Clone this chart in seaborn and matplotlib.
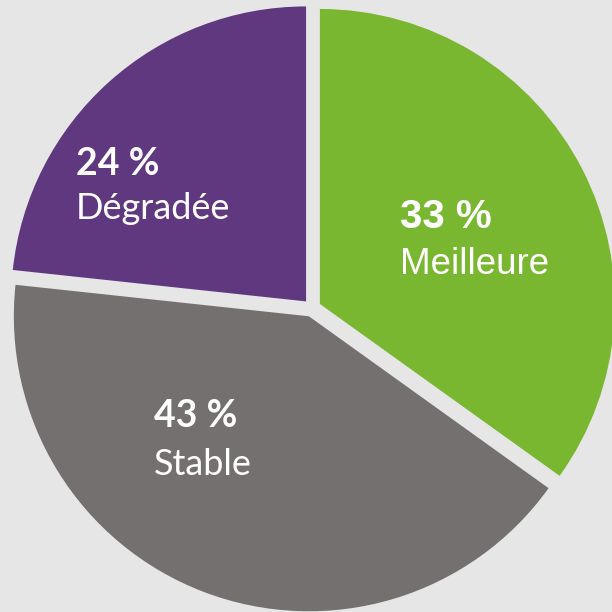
import matplotlib
matplotlib.use("Agg")
import matplotlib.pyplot as plt
import seaborn as sns

# clockwise from the top; wedge sizes as drawn, printed values as labelled
labels = ["Meilleure", "Stable", "Dégradée"]
shares = [34.9, 41.8, 23.3]
printed = ["33 %", "43 %", "24 %"]
colors = ["#7ab730", "#74706f", "#603880"]

# label anchors in pixels (left edge, baseline) for value and name lines
label_px = [(400, 228, 274), (154, 427, 475), (76, 175, 219)]
label_fonts = ["Liberation Sans", "Lato", "Lato"]
value_sizes = [29, 27, 27]
name_sizes = [26.5, 26, 26]

sns.set_theme(style="white")
bg = "#e6e6e6"

fig = plt.figure(figsize=(6.12, 6.12), dpi=100, facecolor=bg)
ax = fig.add_axes([0, 0, 1, 1])
ax.set_facecolor(bg)

cx, cy, R = 312, 308, 295  # pie centre and radius in pixels

wedges, _ = ax.pie(shares, colors=colors, startangle=90, counterclock=False,
                   radius=1, explode=[0.03] * 3,
                   wedgeprops=dict(linewidth=0))

def to_data(px, py):
    return (px - cx) / R, (cy - py) / R

for val, name, (px, by1, by2), fam, vs, ns in zip(printed, labels, label_px,
                                                   label_fonts, value_sizes, name_sizes):
    x1, y1 = to_data(px, by1)
    x2, y2 = to_data(px, by2)
    ax.text(x1, y1, val, color="white", fontsize=vs, fontweight="bold",
            family=fam, ha="left", va="baseline")
    ax.text(x2, y2, name, color="white", fontsize=ns, family=fam,
            ha="left", va="baseline")

ax.set_xlim(-cx / R, (612 - cx) / R)
ax.set_ylim(-(612 - cy) / R, cy / R)
ax.set_aspect("equal")
ax.axis("off")

fig.savefig("out.png", dpi=100, facecolor=bg)
